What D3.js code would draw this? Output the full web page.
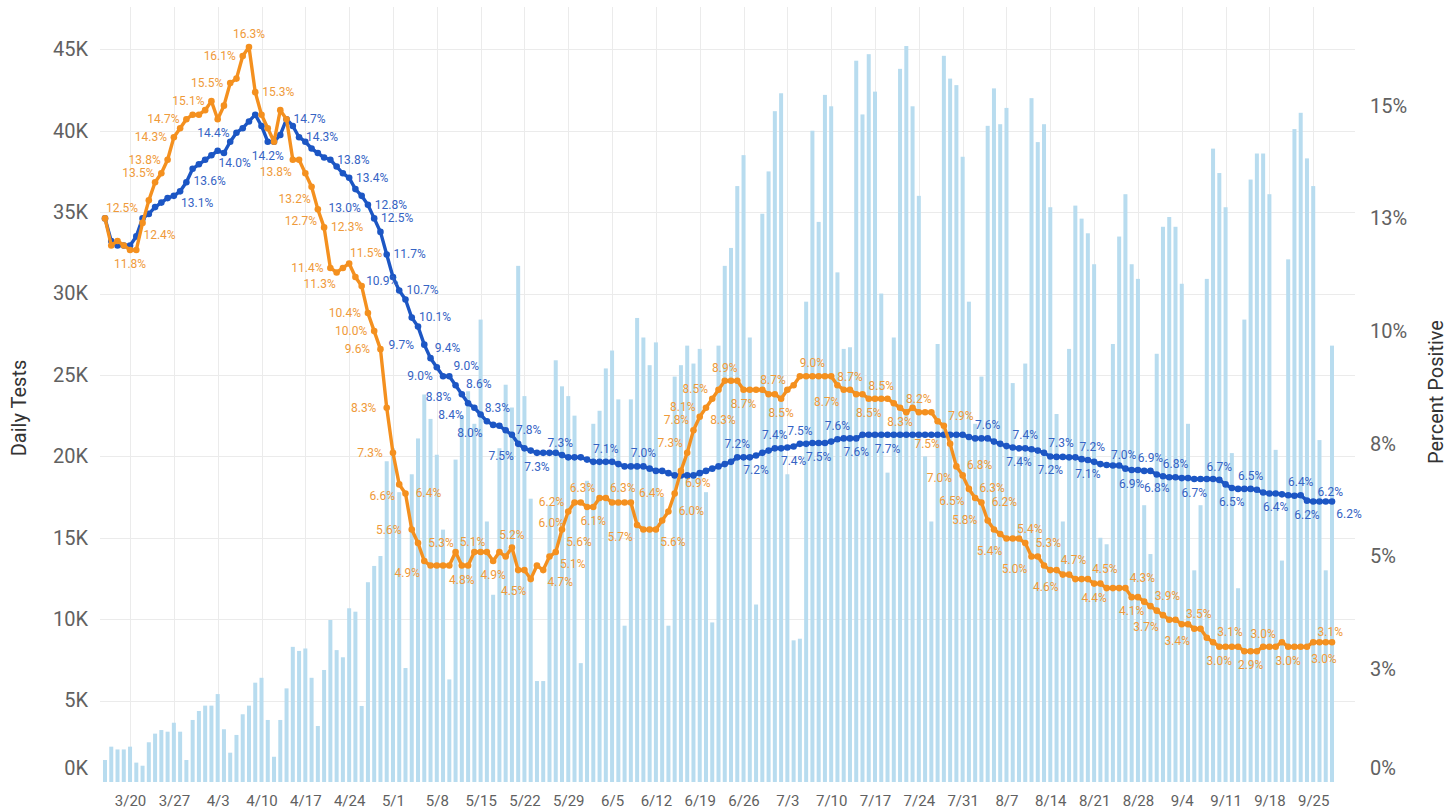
<!DOCTYPE html>
<html>
<head>
<meta charset="utf-8">
<script src="https://cdn.jsdelivr.net/npm/d3@7"></script>
<style>
  body { margin: 0; background: #fff; }
  svg { font-family: Roboto, "Noto Sans", sans-serif; }
</style>
</head>
<body>
<svg id="chart" width="1447" height="810"></svg>
<script>
// first day of the series, one entry per day after it
const START = "2020-03-16";

// daily tests, thousands
const tests = [
  1.35, 2.17, 2.0, 2.0, 2.17, 1.19, 1.0, 2.44, 2.97, 3.19,
  3.09, 3.64, 3.09, 1.35, 3.81, 4.36, 4.69, 4.69, 5.4, 3.24,
  1.8, 2.89, 4.16, 4.69, 6.1, 6.4, 3.81, 1.55, 3.81, 5.75,
  8.3, 8.05, 8.2, 6.4, 3.44, 6.88, 9.95, 8.1, 7.66, 10.67,
  10.46, 4.67, 12.27, 13.27, 13.88, 19.7, 20.5, 17.8, 7.0, 18.9,
  21.1, 23.8, 22.3, 20.1, 15.5, 6.3, 19.8, 22.5, 24.0, 22.0,
  28.4, 16.0, 11.5, 20.5, 24.4, 23.0, 31.7, 23.7, 17.4, 6.2,
  6.2, 17.0, 25.9, 24.3, 23.7, 22.5, 7.3, 18.5, 22.0, 22.8,
  25.4, 26.5, 23.5, 9.6, 23.5, 28.5, 27.3, 25.6, 27.0, 17.5,
  9.6, 24.9, 25.6, 26.8, 25.7, 26.6, 17.8, 9.8, 26.8, 31.7,
  32.8, 36.6, 38.5, 27.3, 10.9, 34.9, 37.5, 41.2, 42.3, 18.9,
  8.7, 8.8, 29.5, 40.0, 34.4, 42.2, 41.5, 31.3, 26.6, 26.7,
  44.3, 41.0, 44.7, 42.4, 30.0, 19.0, 27.3, 43.8, 45.2, 41.5,
  36.0, 20.0, 16.0, 26.9, 44.6, 43.2, 42.8, 38.4, 29.5, 22.0,
  24.9, 40.3, 42.6, 40.4, 41.4, 24.5, 20.0, 25.7, 42.0, 39.3,
  40.4, 35.3, 22.6, 16.0, 26.6, 35.4, 34.6, 33.7, 31.8, 15.0,
  14.6, 26.9, 33.5, 36.1, 31.8, 30.9, 17.0, 14.0, 26.3, 34.1,
  34.7, 34.1, 30.6, 22.0, 13.0, 17.0, 30.9, 38.9, 37.4, 35.3,
  20.2, 11.9, 28.4, 37.0, 38.6, 38.6, 36.1, 20.4, 13.6, 32.1,
  40.1, 41.1, 38.3, 36.6, 21.0, 13.0, 26.8
];

// percent positive, orange series
const orangePct = [
  12.5, 11.9, 12.0, 11.9, 11.8, 11.8, 12.4, 12.9, 13.3, 13.5,
  13.8, 14.3, 14.5, 14.7, 14.8, 14.8, 14.9, 15.1, 14.7, 15.0,
  15.5, 15.6, 16.1, 16.3, 15.3, 14.8, 14.5, 14.2, 14.9, 14.7,
  13.8, 13.8, 13.5, 13.2, 12.7, 12.3, 11.4, 11.3, 11.4, 11.5,
  11.2, 11.0, 10.4, 10.0, 9.6, 8.3, 7.3, 6.6, 6.4, 5.6,
  5.3, 4.9, 4.8, 4.8, 4.8, 4.8, 5.1, 4.8, 4.8, 5.1,
  5.1, 5.1, 4.9, 5.1, 5.0, 5.2, 4.7, 4.7, 4.5, 4.8,
  4.7, 5.0, 5.1, 5.6, 6.0, 6.2, 6.2, 6.1, 6.1, 6.3,
  6.3, 6.2, 6.2, 6.2, 6.2, 5.7, 5.6, 5.6, 5.6, 5.8,
  6.0, 6.4, 6.9, 7.3, 7.8, 8.1, 8.3, 8.5, 8.7, 8.9,
  8.9, 8.9, 8.7, 8.7, 8.7, 8.7, 8.6, 8.6, 8.5, 8.7,
  8.8, 9.0, 9.0, 9.0, 9.0, 9.0, 9.0, 8.8, 8.7, 8.7,
  8.6, 8.6, 8.5, 8.5, 8.5, 8.5, 8.4, 8.3, 8.2, 8.3,
  8.2, 8.2, 8.2, 8.0, 7.9, 7.5, 7.0, 6.8, 6.5, 6.3,
  6.2, 5.8, 5.6, 5.5, 5.4, 5.4, 5.4, 5.3, 5.0, 5.0,
  4.8, 4.7, 4.7, 4.6, 4.6, 4.5, 4.5, 4.5, 4.4, 4.4,
  4.3, 4.3, 4.3, 4.3, 4.1, 4.1, 4.0, 3.9, 3.8, 3.7,
  3.6, 3.6, 3.5, 3.5, 3.4, 3.4, 3.2, 3.1, 3.0, 3.0,
  3.0, 3.0, 2.9, 2.9, 2.9, 3.0, 3.0, 3.0, 3.1, 3.0,
  3.0, 3.0, 3.0, 3.1, 3.1, 3.1, 3.1
];

// percent positive, blue series
const bluePct = [
  12.5, 12.0, 11.9, 11.9, 11.9, 12.1, 12.5, 12.6, 12.75, 12.85,
  12.95, 13.0, 13.1, 13.3, 13.6, 13.7, 13.8, 13.9, 14.0, 13.95,
  14.2, 14.4, 14.5, 14.65, 14.8, 14.55, 14.2, 14.2, 14.35, 14.7,
  14.55, 14.3, 14.2, 14.05, 13.95, 13.85, 13.8, 13.65, 13.5, 13.4,
  13.15, 13.0, 12.8, 12.5, 12.2, 11.7, 11.2, 10.9, 10.7, 10.3,
  10.1, 9.7, 9.4, 9.2, 9.0, 9.0, 8.8, 8.6, 8.4, 8.3,
  8.15, 8.0, 7.92, 7.9, 7.8, 7.7, 7.5, 7.4, 7.35, 7.3,
  7.3, 7.3, 7.3, 7.25, 7.2, 7.2, 7.2, 7.15, 7.1, 7.1,
  7.1, 7.1, 7.05, 7.0, 7.0, 7.0, 7.0, 6.95, 6.9, 6.9,
  6.85, 6.8, 6.8, 6.8, 6.8, 6.85, 6.9, 6.95, 7.0, 7.05,
  7.1, 7.2, 7.2, 7.2, 7.24, 7.3, 7.35, 7.4, 7.4, 7.42,
  7.44, 7.5, 7.5, 7.52, 7.52, 7.52, 7.55, 7.6, 7.62, 7.62,
  7.62, 7.7, 7.7, 7.7, 7.7, 7.7, 7.7, 7.7, 7.7, 7.7,
  7.7, 7.7, 7.7, 7.7, 7.7, 7.7, 7.7, 7.7, 7.65, 7.62,
  7.62, 7.62, 7.55, 7.5, 7.45, 7.42, 7.4, 7.4, 7.38, 7.35,
  7.3, 7.22, 7.21, 7.21, 7.2, 7.2, 7.16, 7.14, 7.1, 7.05,
  7.03, 7.02, 7.02, 6.95, 6.92, 6.92, 6.9, 6.9, 6.82, 6.78,
  6.76, 6.76, 6.74, 6.74, 6.72, 6.72, 6.72, 6.72, 6.7, 6.6,
  6.52, 6.5, 6.5, 6.5, 6.48, 6.42, 6.4, 6.4, 6.38, 6.36,
  6.35, 6.36, 6.24, 6.22, 6.22, 6.22, 6.22
];

// which points carry a value label: [day index, placement]
const orangeLabels = [
  [0,'ar'],[4,'b'],[6,'br'],[9,'l'],[10,'l'],[11,'l'],[13,'l'],[17,'l'],[20,'l'],[22,'l'],
  [23,'a'],[24,'r'],[30,'bl'],[33,'bl'],[34,'bl'],[35,'r'],[36,'l'],[37,'bl'],[39,'ar'],[42,'l'],
  [43,'l'],[44,'l'],[45,'l'],[46,'l'],[47,'bl'],[48,'r'],[49,'l'],[50,'r'],[51,'bl'],[56,'ar'],
  [57,'b'],[62,'b'],[65,'a'],[68,'bl'],[70,'br'],[72,'br'],[73,'br'],[74,'bl'],[75,'l'],[78,'b'],
  [79,'al'],[80,'ar'],[85,'bl'],[88,'br'],[90,'r'],[91,'l'],[92,'br'],[93,'al'],[94,'al'],[95,'al'],
  [96,'br'],[97,'al'],[99,'a'],[102,'b'],[104,'ar'],[108,'b'],[113,'a'],[118,'bl'],[119,'a'],[122,'b'],
  [124,'a'],[127,'b'],[130,'a'],[134,'ar'],[135,'l'],[136,'bl'],[137,'ar'],[138,'bl'],[139,'ar'],[140,'r'],
  [141,'l'],[144,'bl'],[145,'ar'],[147,'r'],[148,'bl'],[152,'ar'],[153,'bl'],[157,'ar'],[158,'b'],[163,'ar'],
  [164,'b'],[167,'ar'],[169,'bl'],[172,'ar'],[174,'bl'],[177,'ar'],[178,'b'],[183,'b'],[185,'a'],[189,'b'],
  [192,'br'],[193,'ar']
];
const blueLabels = [
  [12,'br'],[14,'br'],[18,'br'],[21,'l'],[26,'b'],[29,'r'],[31,'r'],[36,'r'],[39,'r'],[41,'bl'],
  [42,'r'],[43,'r'],[45,'r'],[47,'al'],[48,'ar'],[50,'ar'],[51,'l'],[52,'ar'],[54,'l'],[55,'ar'],
  [56,'bl'],[57,'ar'],[58,'bl'],[59,'r'],[61,'bl'],[64,'r'],[66,'bl'],[69,'b'],[70,'ar'],[80,'a'],
  [86,'a'],[101,'a'],[104,'b'],[107,'a'],[110,'b'],[111,'a'],[114,'b'],[117,'a'],[120,'b'],[125,'b'],
  [141,'a'],[146,'b'],[147,'a'],[150,'ar'],[151,'b'],[155,'ar'],[157,'b'],[160,'ar'],[164,'b'],[167,'a'],
  [168,'b'],[171,'a'],[174,'b'],[178,'a'],[180,'b'],[183,'a'],[187,'b'],[191,'a'],[192,'b'],[193,'ar'],
  [196,'br']
];

const leftTicks = [0, 5, 10, 15, 20, 25, 30, 35, 40, 45];
const rightTicks = [0, 2.5, 5, 7.5, 10, 12.5, 15];

const plot = { left: 100, right: 1355, top: 7, bottom: 782 };
const offsets = {
  a: [0, -13], b: [0, 14], l: [-23, 0], r: [23, 0],
  al: [-17, -10], ar: [17, -10], bl: [-17, 12], br: [17, 12]
};

const dates = tests.map((d, i) => d3.utcDay.offset(new Date(START + "T00:00:00Z"), i));
const weekTicks = d3.range(4, dates.length, 7).map(i => dates[i]);

const svg = d3.select("#chart");

const x = d3.scaleUtc().domain([dates[0], dates[dates.length - 1]]).range([105, 1332]);
const yL = d3.scaleLinear().domain([0, 45]).range([plot.bottom, 49.3]);
const yR = d3.scaleLinear().domain([0, 16.25]).range([plot.bottom, 49.3]);

// grid
const grid = svg.append("g").attr("stroke", "#ebebeb").attr("stroke-width", 1);
grid.selectAll("line.h").data(leftTicks.slice(1)).enter().append("line")
  .attr("x1", plot.left).attr("x2", plot.right)
  .attr("y1", d => Math.round(yL(d)) + 0.5).attr("y2", d => Math.round(yL(d)) + 0.5);
grid.selectAll("line.v").data(weekTicks).enter().append("line")
  .attr("y1", plot.top).attr("y2", plot.bottom)
  .attr("x1", d => Math.round(x(d)) + 0.5).attr("x2", d => Math.round(x(d)) + 0.5);

// bars
svg.append("g").selectAll("rect").data(tests).enter().append("rect")
  .attr("x", (d, i) => x(dates[i]) - 2)
  .attr("width", 4)
  .attr("y", d => yL(d))
  .attr("height", d => plot.bottom - yL(d))
  .attr("fill", "#b8dcef");

// axes
const axisText = sel => sel.selectAll("text").attr("fill", "#616161");

const leftAxis = svg.append("g").attr("transform", `translate(${plot.left},0)`)
  .call(d3.axisLeft(yL).tickValues(leftTicks).tickFormat(d => d + "K").tickSize(0).tickPadding(12));
leftAxis.select(".domain").remove();
leftAxis.selectAll("text").attr("font-size", 20).attr("font-family", "Roboto");
axisText(leftAxis);
leftAxis.selectAll(".tick").filter(d => d === 0).select("text").attr("y", -14);

const rightAxis = svg.append("g").attr("transform", `translate(${plot.right},0)`)
  .call(d3.axisRight(yR).tickValues(rightTicks).tickFormat(d => Math.round(d) + "%").tickSize(0).tickPadding(15));
rightAxis.select(".domain").remove();
rightAxis.selectAll("text").attr("font-size", 20).attr("font-family", "Roboto");
axisText(rightAxis);
rightAxis.selectAll(".tick").filter(d => d === 0).select("text").attr("y", -14);

const bottomAxis = svg.append("g").attr("transform", `translate(0,${plot.bottom})`)
  .call(d3.axisBottom(x).tickValues(weekTicks).tickFormat(d3.utcFormat("%-m/%-d")).tickSize(0).tickPadding(13));
bottomAxis.select(".domain").remove();
bottomAxis.selectAll("text").attr("font-size", 15).attr("font-family", "Roboto");
axisText(bottomAxis);

// axis titles
svg.append("text").attr("transform", "translate(26,408) rotate(-90)")
  .attr("text-anchor", "middle").attr("font-size", 20).attr("fill", "#333").text("Daily Tests");
svg.append("text").attr("transform", "translate(1443,392) rotate(-90)")
  .attr("text-anchor", "middle").attr("font-size", 20).attr("fill", "#333").text("Percent Positive");

// lines with dots
function drawSeries(values, color) {
  const line = d3.line().x((d, i) => x(dates[i])).y(d => yR(d));
  svg.append("path").datum(values).attr("d", line)
    .attr("fill", "none").attr("stroke", color).attr("stroke-width", 3.4).attr("stroke-linejoin", "round");
  svg.append("g").selectAll("circle").data(values).enter().append("circle")
    .attr("cx", (d, i) => x(dates[i])).attr("cy", d => yR(d)).attr("r", 3.3).attr("fill", color);
}
drawSeries(bluePct, "#1c56c4");
drawSeries(orangePct, "#f4901f");

function drawLabels(values, labels, color) {
  svg.append("g").selectAll("text").data(labels).enter().append("text")
    .attr("x", d => x(dates[d[0]]) + offsets[d[1]][0])
    .attr("y", d => yR(values[d[0]]) + offsets[d[1]][1])
    .attr("text-anchor", "middle").attr("dominant-baseline", "central")
    .attr("font-size", 12).attr("fill", color)
    .text(d => values[d[0]].toFixed(1) + "%");
}
drawLabels(bluePct, blueLabels, "#3563c4");
drawLabels(orangePct, orangeLabels, "#ef9a3a");
</script>
</body>
</html>
